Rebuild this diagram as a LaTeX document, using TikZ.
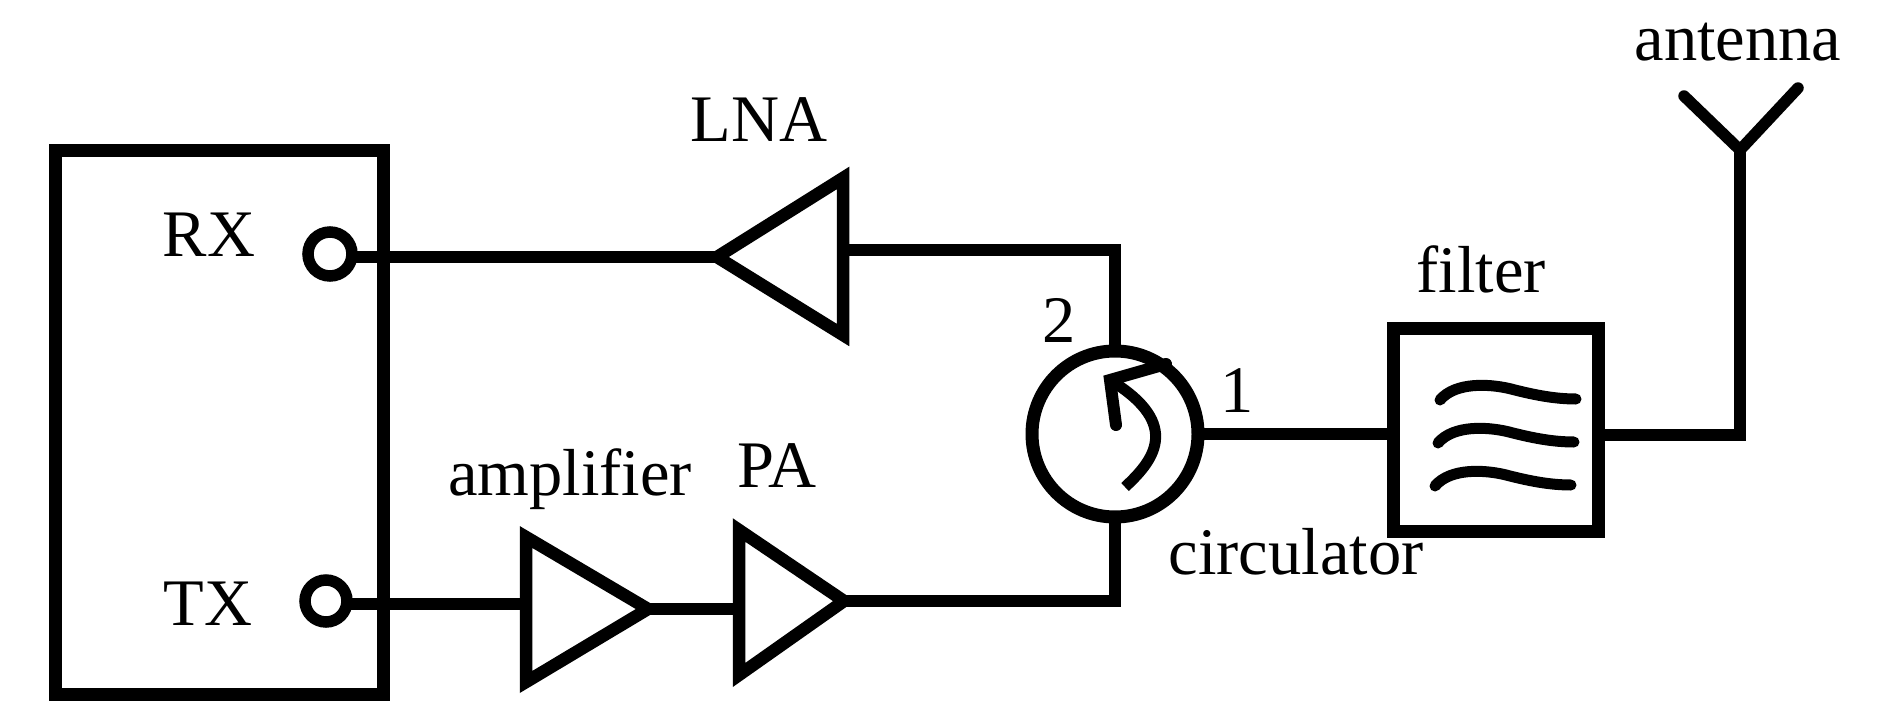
\documentclass[tikz,border=0pt]{standalone}
\usepackage{fontspec}
\setmainfont{Liberation Serif}
\tikzset{
  wire/.style={line width=12.5pt,line join=miter,line cap=butt},
  outline/.style={draw,line width=13pt,inner sep=0pt,outer sep=0pt,fill=none},
  port/.style={circle,draw,line width=11.5pt,inner sep=0pt,outer sep=0pt},
  amp/.style={line width=12.5pt,line join=miter,line cap=butt},
  wave/.style={line width=11pt,line cap=round},
  label/.style={anchor=base,inner sep=0pt,font=\fontsize{66.5}{70}\selectfont},
}
\begin{document}
\begin{tikzpicture}[x=1pt,y=-1pt]
\useasboundingbox (0,0) rectangle (1890,706);
% blocks
\node[outline,rectangle,minimum width=328pt,minimum height=543pt] (box) at (219,422.5) {};
\node[port,minimum size=44pt] (rx) at (330,254) {};
\node[port,minimum size=42pt] (tx) at (326,601) {};
\node[outline,circle,minimum size=166pt] (circ) at (1115,434) {};
\node[outline,rectangle,minimum width=205pt,minimum height=203pt] (filt) at (1495.5,429.5) {};
% amplifier triangles
\coordinate (lnaTip) at (717,257);
\coordinate (lnaTop) at (843,178);
\coordinate (lnaBot) at (843,335);
\coordinate (lnaOut) at (843,250);
\draw[amp] (lnaTip) -- (lnaTop) -- (lnaBot) -- cycle;
\coordinate (ampA) at (526,537);
\coordinate (ampB) at (526,682);
\coordinate (ampTip) at (648,609);
\draw[amp] (ampA) -- (ampTip) -- (ampB) -- cycle;
\coordinate (paA) at (739,530);
\coordinate (paB) at (739,675);
\coordinate (paTip) at (844,601);
\draw[amp] (paA) -- (paTip) -- (paB) -- cycle;
% antenna
\coordinate (antJ) at (1740,150);
\coordinate (antL) at (1684,96);
\coordinate (antR) at (1798,88);
\coordinate (antF) at (1740,435);
% connectors
\draw[wire] (rx.east |- lnaTip) -- (lnaTip);
\draw[wire] (lnaOut) -| (circ.north);
\draw[wire] (tx.east |- 0,604) -- (ampA |- 0,604);
\draw[wire] (ampTip) -- (paA |- ampTip);
\draw[wire] (paTip) -| (circ.south);
\draw[wire] (circ.east) -- (filt.west |- circ.east);
\draw[wire] (filt.east |- antF) -- ([xshift=6pt]antF);
\draw[wire] (antF) -- (antJ);
\draw[wire,line cap=round,line width=11.5pt] (antL) -- (antJ) -- (antR);
% circulator arrow
\coordinate (arrS) at (1125,487);
\coordinate (arrT) at (1110,380);
\draw[wave,line cap=butt] (arrS) .. controls (1152,462) and (1184,425) .. (arrT);
\draw[wave,line join=miter,line width=12pt] (1166,364) -- (arrT) -- (1116,425);
% filter waves
\foreach \n/\dx/\dy in {a/0/0,b/-2/43,c/-5/86}{
  \draw[wave,shift={(\dx,\dy)}] (1440,400) .. controls (1455,382) and (1490,383) .. (1515,390) .. controls (1535,395) and (1555,399) .. (1576,399);
}
% labels
\node[label] (tAnt) at (1738,61) {antenna};
\node[label] (tLna) at (759,142) {LNA};
\node[label] (tRx) at (209,256) {RX};
\node[label] (tTx) at (208,625) {TX};
\node[label] (tAmp) at (570,495) {amplifier};
\node[label] (tPa) at (777,487) {PA};
\node[label] (t2) at (1059,342) {2};
\node[label] (t1) at (1237,412) {1};
\node[label] (tCirc) at (1296,574) {circulator};
\node[label] (tFilt) at (1481,292) {filter};
\end{tikzpicture}
\end{document}
